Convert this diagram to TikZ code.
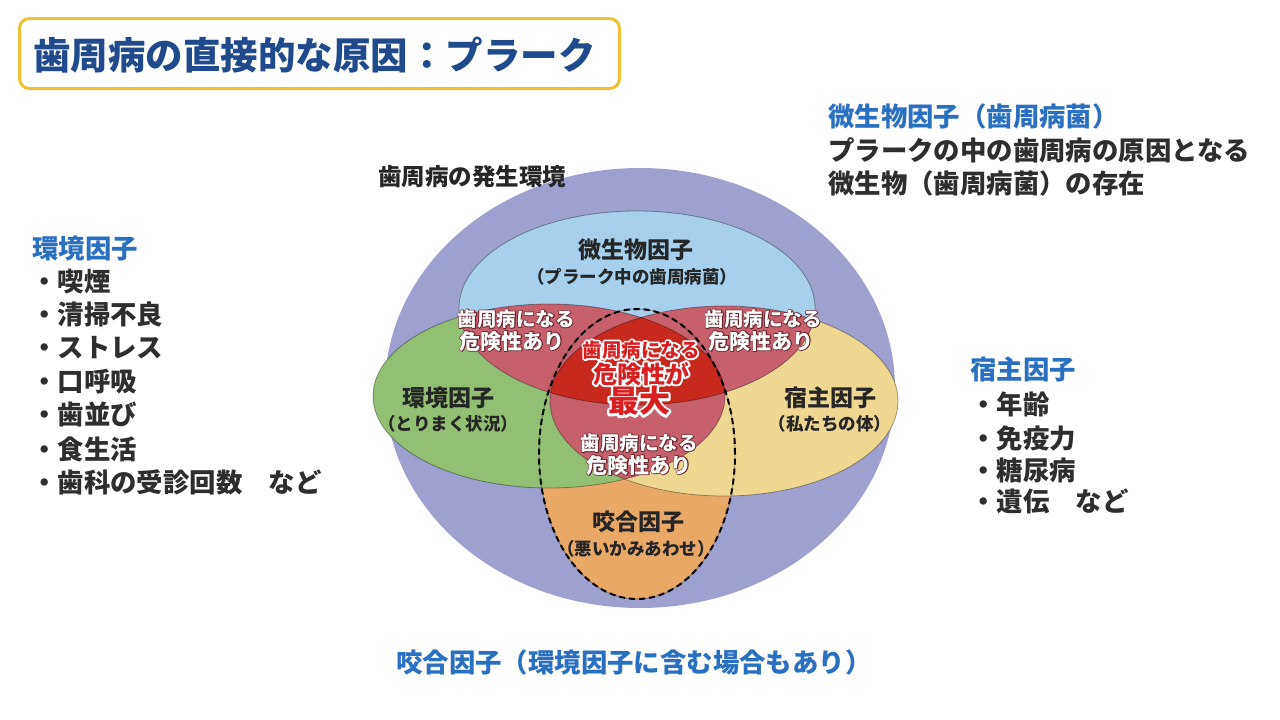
\documentclass[tikz,border=0pt]{standalone}
\usepackage{fontspec}
\setmainfont{Noto Sans CJK JP}
\definecolor{goldc}{HTML}{EEC233}
\definecolor{navyc}{HTML}{1F4A8C}
\definecolor{headc}{HTML}{2A70C0}
\definecolor{bodyc}{HTML}{2E2E2E}
\definecolor{labc}{HTML}{262626}
\definecolor{purc}{HTML}{9EA0D0}
\definecolor{bluec}{HTML}{A6D0EE}
\definecolor{greenc}{HTML}{92BF72}
\definecolor{yellowc}{HTML}{EDD791}
\definecolor{orangec}{HTML}{EAA866}
\definecolor{pinkc}{HTML}{C6606C}
\definecolor{redc}{HTML}{C8291D}
\definecolor{ctrred}{HTML}{D82020}
% halo: a stroked copy behind (PDF text render mode 1), then the filled text
\newcommand{\halotext}[3]{\rlap{\special{pdf:literal direct 1 Tr #2 w 1 j #1 RG}#3\special{pdf:literal direct 0 Tr}}#3}
\def\blueE{(637,308) ellipse [x radius=178pt, y radius=97pt]}
\def\greenE{(549,396) ellipse [x radius=176pt, y radius=92pt]}
\def\yellowE{(724,401) ellipse [x radius=174pt, y radius=95pt]}
\def\orangeE{(637,454) ellipse [x radius=98pt, y radius=145pt]}
\tikzset{
  txt/.style={inner sep=0pt, anchor=base west},
  ctr/.style={inner sep=0pt, anchor=base},
  body/.style={txt, text=bodyc, font=\fontsize{26.4}{30}\selectfont\bfseries},
  head/.style={txt, text=headc, font=\fontsize{26.4}{30}\selectfont\bfseries},
  big/.style={ctr, text=labc, font=\fontsize{23}{26}\selectfont\bfseries},
  small/.style={ctr, text=labc, font=\fontsize{17.5}{20}\selectfont\bfseries},
  risk/.style={ctr, text=white, font=\fontsize{#1}{#1}\selectfont\bfseries},
  edge/.style={draw=black, draw opacity=0.35, line width=0.8pt}
}
\begin{document}
\begin{tikzpicture}[x=1pt,y=-1pt]
\useasboundingbox (0,0) rectangle (1280,720);
\fill[white] (0,0) rectangle (1280,720);
% title
\node[draw=goldc, line width=3pt, rounded corners=10pt, fill=white,
  minimum width=600pt, minimum height=70pt, anchor=north west, inner sep=0pt] (titlebox) at (18,17) {};
\node[txt, text=navyc, font=\fontsize{37.5}{40}\selectfont\bfseries] (title) at (33,69.5) {歯周病の直接的な原因：プラーク};
% diagram
\fill[purc] (640,388) ellipse [x radius=255pt, y radius=220pt];
\fill[orangec] \orangeE;
\fill[greenc] \greenE;
\fill[yellowc] \yellowE;
\fill[bluec] \blueE;
\begin{scope}\clip \blueE; \fill[pinkc] \greenE; \end{scope}
\begin{scope}\clip \blueE; \fill[pinkc] \yellowE; \end{scope}
\begin{scope}\clip \greenE; \fill[pinkc] \yellowE; \end{scope}
\begin{scope}\clip \blueE; \clip \greenE; \fill[redc] \yellowE; \end{scope}
\path[edge] \orangeE;
\path[edge] \greenE;
\path[edge] \yellowE;
\path[edge] \blueE;
\draw[black, line width=2pt, dash pattern=on 6pt off 4pt] \orangeE;
% diagram labels
\node[txt, text=labc, font=\fontsize{23.5}{26}\selectfont\bfseries] (env0) at (378,185.7) {歯周病の発生環境};
\node[big] (mic) at (636,258.7) {微生物因子};
\node[small] (micsub) at (632,283.5) {（プラーク中の歯周病菌）};
\node[big] (envf) at (448,406.7) {環境因子};
\node[small] (envsub) at (448,430.5) {（とりまく状況）};
\node[big] (host) at (830,406.7) {宿主因子};
\node[small] (hostsub) at (830,430.5) {（私たちの体）};
\node[big] (occ) at (638,530.7) {咬合因子};
\node[small] (occsub) at (636,555.5) {（悪いかみあわせ）};
% risk labels
\node[risk=19.5] (ula) at (516,326.2) {\halotext{0.42 0.15 0.19}{1.6}{歯周病になる}};
\node[risk=21] (ulb) at (512,349) {\halotext{0.42 0.15 0.19}{1.6}{危険性あり}};
\node[risk=19.5] (ura) at (763,326.2) {\halotext{0.42 0.15 0.19}{1.6}{歯周病になる}};
\node[risk=21] (urb) at (761,349) {\halotext{0.42 0.15 0.19}{1.6}{危険性あり}};
\node[risk=19.5] (bta) at (639,450.2) {\halotext{0.42 0.15 0.19}{1.6}{歯周病になる}};
\node[risk=21] (btb) at (639,473) {\halotext{0.42 0.15 0.19}{1.6}{危険性あり}};
\node[risk=19.5, text=ctrred] (ca) at (641,357.2) {\halotext{1 1 1}{3.6}{歯周病になる}};
\node[risk=24, text=ctrred] (cb) at (641,383) {\halotext{1 1 1}{4}{危険性が}};
\node[risk=31, text=ctrred] (cc) at (639,412.8) {\halotext{1 1 1}{4.5}{最大}};
% right top block
\node[head] (mh) at (828,126) {微生物因子（歯周病菌）};
\node[body] (m1) at (828,160) {プラークの中の歯周病の原因となる};
\node[body] (m2) at (828,193) {微生物（歯周病菌）の存在};
% left block
\node[head] (eh) at (32,258) {環境因子};
\node[body] (e1) at (31,291) {・喫煙};
\node[body] (e2) at (31,324) {・清掃不良};
\node[body] (e3) at (31,357) {・ストレス};
\node[body] (e4) at (31,391) {・口呼吸};
\node[body] (e5) at (31,424) {・歯並び};
\node[body] (e6) at (31,459) {・食生活};
\node[body] (e7) at (31,492) {・歯科の受診回数　など};
% right host block
\node[head] (hh) at (970,379) {宿主因子};
\node[body] (h1) at (970,414) {・年齢};
\node[body] (h2) at (970,448) {・免疫力};
\node[body] (h3) at (970,480) {・糖尿病};
\node[body] (h4) at (970,511) {・遺伝　など};
% bottom
\node[head] (bt) at (396,672) {咬合因子（環境因子に含む場合もあり）};
\end{tikzpicture}
\end{document}
